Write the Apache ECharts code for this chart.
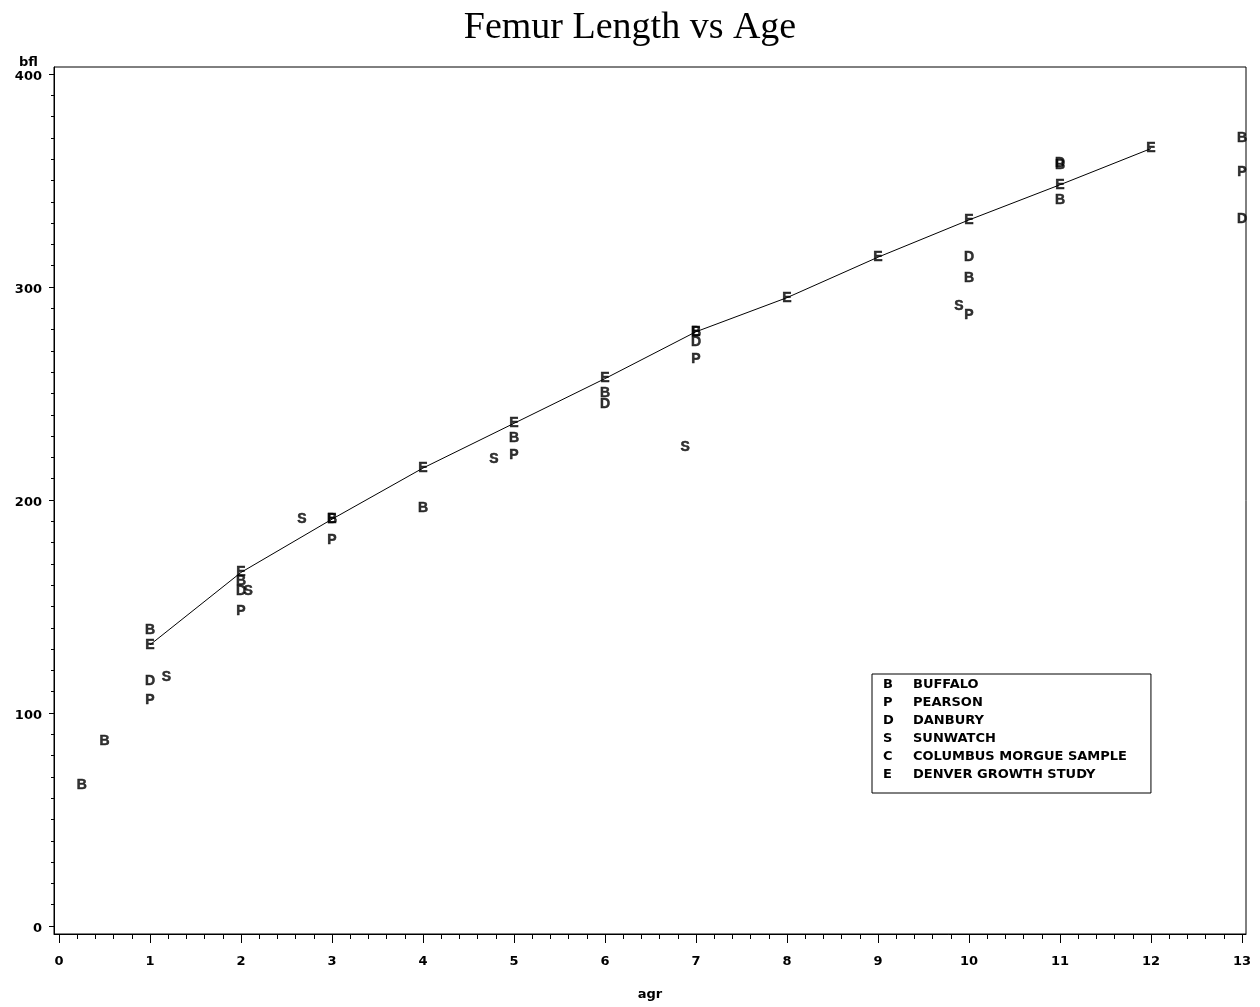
<!DOCTYPE html>
<html>
<head>
<meta charset="utf-8">
<script src="https://cdn.jsdelivr.net/npm/echarts@6/dist/echarts.min.js"></script>
<style>
  html, body { margin: 0; padding: 0; background: #fff; }
  #chart { width: 1260px; height: 1007px; }
</style>
</head>
<body>
<div id="chart"></div>
<script>
// Site codes and their names, in legend order
const siteCodes = ['B', 'P', 'D', 'S', 'C', 'E'];
const siteNames = ['BUFFALO', 'PEARSON', 'DANBURY', 'SUNWATCH', 'COLUMBUS MORGUE SAMPLE', 'DENVER GROWTH STUDY'];

// Buffalo
const ageB = [0.25, 0.5, 1, 2, 3, 4, 5, 6, 7, 10, 11, 11, 13];
const bflB = [66, 87, 139, 162, 191, 196, 229, 250, 279, 304, 357, 341, 370];
// Pearson
const ageP = [1, 2, 3, 5, 7, 10, 13];
const bflP = [106, 148, 181, 221, 266, 287, 354];
// Danbury
const ageD = [1, 2, 6, 7, 10, 11, 13];
const bflD = [115, 157, 245, 274, 314, 358, 332];
// Sunwatch
const ageS = [1.18, 2.08, 2.67, 4.78, 6.88, 9.89];
const bflS = [117, 157, 191, 219, 225, 291];
// Columbus Morgue Sample (no points in this age range)
const ageC = [];
const bflC = [];
// Denver Growth Study (connected)
const ageE = [1, 2, 3, 4, 5, 6, 7, 8, 9, 10, 11, 12];
const bflE = [132, 166, 191, 215, 236, 257, 279, 295, 314, 331.5, 348, 365];

// Axis tick values
const xTickValues = [0, 1, 2, 3, 4, 5, 6, 7, 8, 9, 10, 11, 12, 13];
const yTickValues = [0, 100, 200, 300, 400];

// The plotting frame is a little wider than the tick range on every side
const xMin = -0.055, xMax = 13.044;
const yMin = -3.76, yMax = 403.3;

// Minor ticks: 5 steps per age unit, 10 steps per 100 mm
const xMinorValues = [];
for (let i = 0; i < xTickValues.length - 1; i++) {
  for (let k = 1; k < 5; k++) xMinorValues.push(+(xTickValues[i] + k * 0.2).toFixed(2));
}
const yMinorValues = [];
for (let i = 0; i < yTickValues.length - 1; i++) {
  for (let k = 1; k < 10; k++) yMinorValues.push(yTickValues[i] + k * 10);
}

const pairs = (xs, ys) => xs.map((x, i) => [x, ys[i]]);

const letterFont = {
  fontFamily: 'Liberation Sans', fontWeight: 'bold', fontSize: 14, color: '#000',
  textBorderColor: '#000', textBorderWidth: 0.5
};
const axisFont = { fontFamily: 'DejaVu Sans', fontWeight: 'bold', fontSize: 13, color: '#000' };
const black = { color: '#000', width: 1 };

function letterSeries(code, xs, ys) {
  return {
    name: code,
    type: 'scatter',
    data: pairs(xs, ys),
    symbol: 'circle',
    symbolSize: 0.1,
    itemStyle: { color: 'rgba(0,0,0,0)' },
    label: Object.assign({ show: true, position: 'inside', formatter: code }, letterFont),
    silent: true,
    animation: false
  };
}

const chart = echarts.init(document.getElementById('chart'), null, { renderer: 'canvas' });

chart.setOption({
  backgroundColor: '#fff',
  animation: false,
  title: {
    text: 'Femur Length vs Age',
    left: 'center',
    top: 4,
    textStyle: { fontFamily: 'Liberation Serif', fontWeight: 'normal', fontSize: 38, color: '#000' }
  },
  legend: {
    data: siteCodes,
    orient: 'vertical',
    left: 872,
    top: 674,
    itemWidth: 0,
    itemHeight: 13,
    itemGap: 5,
    padding: [4.5, 24, 11.5, 6],
    borderColor: '#000',
    borderWidth: 1,
    selectedMode: false,
    formatter: name => '{k|' + name + '}{n|' + siteNames[siteCodes.indexOf(name)] + '}',
    textStyle: {
      color: '#000',
      rich: {
        k: { width: 30, fontFamily: 'DejaVu Sans', fontWeight: 'bold', fontSize: 13, color: '#000' },
        n: { fontFamily: 'DejaVu Sans', fontWeight: 'bold', fontSize: 13, color: '#000' }
      }
    }
  },
  grid: {
    left: 54, right: 14, top: 67, bottom: 73,
    show: true, borderColor: '#000', borderWidth: 1, backgroundColor: 'rgba(0,0,0,0)'
  },
  xAxis: [
    {
      type: 'value',
      position: 'bottom',
      min: xMin,
      max: xMax,
      name: 'agr',
      nameLocation: 'middle',
      nameGap: 61,
      nameTextStyle: Object.assign({ verticalAlign: 'middle' }, axisFont),
      axisLine: { show: true, onZero: false, lineStyle: black },
      axisTick: { show: true, length: 9, customValues: xTickValues, lineStyle: black },
      splitLine: { show: false },
      axisLabel: Object.assign({ margin: 21, customValues: xTickValues }, axisFont)
    },
    {
      type: 'value',
      position: 'bottom',
      min: xMin,
      max: xMax,
      axisLine: { show: false, onZero: false },
      axisTick: { show: true, length: 5, customValues: xMinorValues, lineStyle: black },
      splitLine: { show: false },
      axisLabel: { show: false }
    }
  ],
  yAxis: [
    {
      type: 'value',
      position: 'left',
      min: yMin,
      max: yMax,
      name: 'bfl',
      nameLocation: 'end',
      nameGap: 4,
      nameTextStyle: Object.assign({ align: 'right', verticalAlign: 'middle', padding: [0, 16, 0, 0] }, axisFont),
      axisLine: { show: true, onZero: false, lineStyle: black },
      axisTick: { show: true, length: 5, customValues: yTickValues, lineStyle: black },
      splitLine: { show: false },
      axisLabel: Object.assign({ margin: 12, verticalAlign: 'top', lineHeight: 6, customValues: yTickValues }, axisFont)
    },
    {
      type: 'value',
      position: 'left',
      min: yMin,
      max: yMax,
      axisLine: { show: false, onZero: false },
      axisTick: { show: true, length: 3, customValues: yMinorValues, lineStyle: black },
      splitLine: { show: false },
      axisLabel: { show: false }
    }
  ],
  series: [
    {
      name: 'Denver curve',
      type: 'line',
      data: pairs(ageE, bflE),
      symbol: 'none',
      lineStyle: { color: '#000', width: 1 },
      silent: true,
      animation: false
    },
    letterSeries('E', ageE, bflE),
    letterSeries('S', ageS, bflS),
    letterSeries('P', ageP, bflP),
    letterSeries('D', ageD, bflD),
    letterSeries('B', ageB, bflB),
    letterSeries('C', ageC, bflC)
  ]
});
</script>
</body>
</html>
